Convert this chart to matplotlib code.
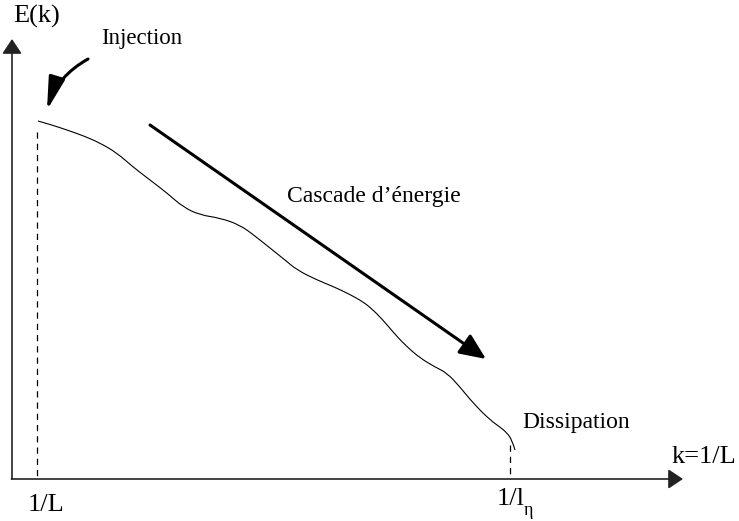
import matplotlib.pyplot as plt
from matplotlib.patches import FancyArrowPatch, PathPatch
from matplotlib.path import Path

plt.rcParams['font.family'] = ['Liberation Serif', 'DejaVu Serif']

# spectre E(k) schematique (coordonnées du dessin, y vers le bas)
k_vals = [38, 52, 67, 84, 100, 117, 133, 150, 167, 183, 200, 220, 240, 255, 270,
          285, 297, 317, 332, 347, 360, 370, 383, 393, 405, 420, 435, 447, 460,
          473, 490, 500, 507, 512, 515]
E_vals = [121, 125, 130, 136, 143, 153, 167, 180, 193, 207, 215, 218, 225, 236, 248,
          260, 270, 280, 286, 293, 300, 307, 320, 332, 345, 358, 367, 373, 387,
          403, 420, 427, 433, 440, 450]

x0, y0 = 12, 479          # origine des axes
k_L, k_eta = 37, 510      # 1/L et 1/l_eta
E_L, E_eta = 132, 445     # haut des pointillés

fig = plt.figure(figsize=(7.39, 5.21), dpi=100)
ax = fig.add_axes([0, 0, 1, 1])
ax.set_xlim(0, 739)
ax.set_ylim(521, 0)
ax.axis('off')

# axes avec flèches
ax.annotate('', xy=(x0, 39), xytext=(x0, y0),
            arrowprops=dict(arrowstyle='-|>,head_length=0.45,head_width=0.3',
                            lw=1.2, color='#222222',
                            mutation_scale=20, shrinkA=0, shrinkB=0))
ax.annotate('', xy=(683, y0), xytext=(x0 - 0.6, y0),
            arrowprops=dict(arrowstyle='-|>,head_length=0.45,head_width=0.3',
                            lw=1.2, color='#222222',
                            mutation_scale=20, shrinkA=0, shrinkB=0))

# courbe lissée : points lus = points de contrôle de béziers quadratiques
pts = list(zip(k_vals, E_vals))
verts = [pts[0]]
codes = [Path.MOVETO]
for i in range(1, len(pts) - 1):
    mid = ((pts[i][0] + pts[i + 1][0]) / 2, (pts[i][1] + pts[i + 1][1]) / 2)
    if i == len(pts) - 2:
        mid = pts[-1]
    verts += [pts[i], mid]
    codes += [Path.CURVE3, Path.CURVE3]
ax.add_patch(PathPatch(Path(verts, codes), fill=False, lw=0.8, edgecolor='black'))

# pointillés
ax.plot([k_L, k_L], [E_L, y0], color='black', lw=0.9, ls=(0, (5, 4)))
ax.plot([k_eta, k_eta], [E_eta, y0], color='black', lw=0.9, ls=(0, (5, 4)))

# flèche d'injection
inj = FancyArrowPatch((88, 59), (47, 110), connectionstyle='arc3,rad=0.2',
                      arrowstyle='-|>,head_length=1.0,head_width=0.25',
                      mutation_scale=20, lw=2.2, color='black',
                      shrinkA=0, shrinkB=0)
ax.add_patch(inj)

# flèche de la cascade
ax.annotate('', xy=(486, 359), xytext=(150, 125),
            arrowprops=dict(arrowstyle='-|>,head_length=0.8,head_width=0.35',
                            lw=2.2, color='black', mutation_scale=20,
                            shrinkA=0, shrinkB=0))

# textes
ax.text(13, 23, 'E(k)', fontsize=19, va='baseline')
ax.text(101, 44, 'Injection', fontsize=16.5, va='baseline')
ax.text(287, 202, 'Cascade d\u2019énergie', fontsize=17, va='baseline')
ax.text(522, 428, 'Dissipation', fontsize=17, va='baseline')
ax.text(672, 463, 'k=1/L', fontsize=19, va='baseline')
ax.text(28, 511, '1/L', fontsize=19, va='baseline')
ax.text(497, 505, '1/l', fontsize=19, va='baseline')
ax.text(524, 515, '\u03b7', fontsize=13, va='baseline')

fig.savefig('out.png', dpi=100)
